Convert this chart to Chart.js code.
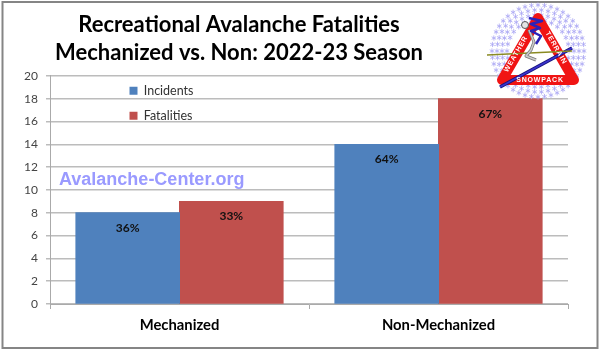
<!DOCTYPE html>
<html>
<head>
<meta charset="utf-8">
<style>
body { margin: 0; background: #fff; }
#wrap { width: 600px; height: 350px; }
</style>
<script src="https://cdn.jsdelivr.net/npm/chart.js@4/dist/chart.umd.min.js"></script>
</head>
<body>
<div id="wrap"><canvas id="chart" width="600" height="350"></canvas></div>
<script>
const categories = ['Mechanized', 'Non-Mechanized'];
const incidents = [8, 14];
const fatalities = [9, 18];
const incidentPct = ['36%', '64%'];
const fatalityPct = ['33%', '67%'];
const titleLines = ['Recreational Avalanche Fatalities', 'Mechanized vs. Non: 2022-23 Season'];

const FONT = 'Lato, "Open Sans", sans-serif';

//outer frame + layout tweaks
const framePlugin = {
    id: 'frame',
    beforeDraw(chart) {
        const c = chart.ctx;
        c.save();
        c.fillStyle = '#fff';
        c.fillRect(0, 0, 600, 350);
        c.strokeStyle = '#858585';
        c.lineWidth = 2;
        c.strokeRect(2.5, 2, 595, 346);
        c.restore();
    },
    afterLayout(chart) {
        //title is centred on the left part, legend sits inside the plot
        chart.titleBlock.left = 0;
        chart.titleBlock.right = 478;
        const lg = chart.legend;
        const w = lg.right - lg.left, h = lg.bottom - lg.top;
        lg.left = 117;
        lg.right = lg.left + w;
        lg.top = 72;
        lg.bottom = lg.top + h;
    }
};

//percent labels inside the bars + site name
const pctPlugin = {
    id: 'pct',
    afterDatasetsDraw(chart) {
        const c = chart.ctx;
        c.save();
        c.font = 'bold 12px ' + FONT;
        c.fillStyle = '#111';
        c.textAlign = 'center';
        c.textBaseline = 'middle';
        [incidentPct, fatalityPct].forEach(function (labels, d) {
            chart.getDatasetMeta(d).data.forEach(function (bar, i) {
                c.fillText(labels[i], bar.x, bar.y + 15);
            });
        });
        c.font = 'bold 18px "Liberation Sans", Arial, sans-serif';
        c.fillStyle = '#9a9aff';
        c.textAlign = 'left';
        c.fillText('Avalanche-Center.org', 59, 180);
        c.restore();
    }
};

function flake(c, x, y, r) {
    c.beginPath();
    for (let a = 0; a < 3; a++) {
        const t = a * Math.PI / 3 + 0.5;
        c.moveTo(x - Math.cos(t) * r, y - Math.sin(t) * r);
        c.lineTo(x + Math.cos(t) * r, y + Math.sin(t) * r);
    }
    c.stroke();
}

function line(c, color, width, pts) {
    c.strokeStyle = color;
    c.lineWidth = width;
    c.beginPath();
    pts.forEach(function (p, i) {
        if (i === 0) c.moveTo(p[0], p[1]); else c.lineTo(p[0], p[1]);
    });
    c.stroke();
}

function sideText(c, text, x, y, angle) {
    c.save();
    c.translate(x, y);
    c.rotate(angle);
    c.fillText(text, 0, 0);
    c.restore();
}

//logo top right
const logoPlugin = {
    id: 'logo',
    afterDraw(chart) {
        const c = chart.ctx;
        const cx = 538, cy = 51;
        c.save();
        //snowflake ring
        c.strokeStyle = '#a9a6f4';
        c.lineWidth = 0.8;
        [[46, 44, 2.6], [41, 38, 2.6], [36, 34, 2.6], [31, 28, 2.6]].forEach(function (ring) {
            for (let k = 0; k < ring[1]; k++) {
                const a = k / ring[1] * Math.PI * 2;
                flake(c, cx + Math.cos(a) * ring[0], cy + Math.sin(a) * ring[0], ring[2]);
            }
        });
        //red triangle
        c.lineJoin = 'round';
        c.strokeStyle = '#f01414';
        c.fillStyle = '#fff';
        c.lineWidth = 10;
        c.beginPath();
        c.moveTo(538, 18);
        c.lineTo(502, 80);
        c.lineTo(574, 80);
        c.closePath();
        c.fill();
        c.stroke();
        //skis and pole
        line(c, '#16127a', 3.5, [[500, 87], [572, 48]]);
        line(c, '#3a33cc', 1.8, [[500, 87], [572, 48]]);
        line(c, '#8a8a22', 1.5, [[487, 55], [572, 51]]);
        //skier
        c.strokeStyle = '#555';
        c.fillStyle = '#e4e4e4';
        c.lineWidth = 1;
        c.beginPath();
        c.arc(525, 25, 3.5, 0, Math.PI * 2);
        c.fill();
        c.stroke();
        line(c, '#777', 3, [[529, 30], [534, 42], [531, 50], [526, 56], [536, 60]]);
        line(c, '#ccc', 1.5, [[529, 30], [534, 42], [531, 50], [526, 56], [536, 60]]);
        line(c, '#2b22b8', 2.5, [[529, 18], [542, 21], [531, 24], [540, 28], [531, 31], [541, 36], [536, 44]]);
        //logo text
        c.fillStyle = '#fff';
        c.font = 'bold 7px "Liberation Sans", sans-serif';
        c.letterSpacing = '0.8px';
        c.textAlign = 'center';
        c.textBaseline = 'middle';
        c.fillText('SNOWPACK', 540, 80);
        sideText(c, 'WEATHER', 516, 54, -Math.PI / 3);
        sideText(c, 'TERRAIN', 556, 48, Math.PI / 3);
        c.restore();
    }
};

new Chart(document.getElementById('chart'), {
    type: 'bar',
    data: {
        labels: categories,
        datasets: [
            { label: 'Incidents', data: incidents, backgroundColor: '#4f81bd', categoryPercentage: 0.8, barPercentage: 1, inflateAmount: 0.5 },
            { label: 'Fatalities', data: fatalities, backgroundColor: '#c0504d', categoryPercentage: 0.8, barPercentage: 1, inflateAmount: 0.5 }
        ]
    },
    plugins: [framePlugin, pctPlugin, logoPlugin],
    options: {
        responsive: false,
        animation: false,
        layout: { padding: { left: 0, right: 32, top: 0, bottom: 0 } },
        plugins: {
            tooltip: { enabled: false },
            title: {
                display: true,
                text: titleLines,
                color: '#000',
                font: { family: FONT, size: 22, weight: 'bold', lineHeight: 1.2727 },
                padding: { top: 11, bottom: 9 }
            },
            legend: {
                position: 'chartArea',
                align: 'start',
                labels: {
                    boxWidth: 8,
                    boxHeight: 8,
                    padding: 12.5,
                    color: '#333',
                    font: { family: FONT, size: 12.5 }
                }
            }
        },
        scales: {
            x: {
                afterFit(scale) { scale.height = 46; },
                grid: { drawOnChartArea: false, color: '#aaa', tickLength: 5, offset: true },
                border: { color: '#aaa' },
                ticks: { color: '#000', padding: 7, font: { family: FONT, size: 14.8, weight: 'bold' } }
            },
            y: {
                min: 0,
                max: 20,
                afterFit(scale) { scale.width = 50; },
                grid: { color: '#bcbcbc', lineWidth: 1.5, tickLength: 4 },
                border: { color: '#aaa' },
                ticks: { stepSize: 2, color: '#444', padding: 8, font: { family: FONT, size: 12 } }
            }
        }
    }
});
</script>
</body>
</html>
